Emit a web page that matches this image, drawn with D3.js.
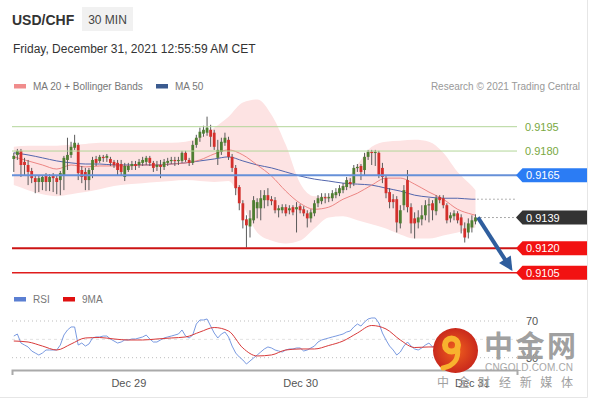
<!DOCTYPE html>
<html lang="en">
<head>
<meta charset="utf-8">
<title>USD/CHF 30 MIN</title>
<script src="https://cdn.jsdelivr.net/npm/d3@7/dist/d3.min.js"></script>
<style>
  body { margin: 0; background: #fff; }
  svg { display: block; font-family: "Liberation Sans", Arial, sans-serif; }
</style>
</head>
<body>
<div id="chart"></div>
<script>
// 30 min candles, Dec 28 08:00 -> Dec 31 00:30
var open = [
  0.91751,0.91776,0.91801,0.91733,0.91714,0.91677,0.91633,0.91609,0.91609,0.91652,
  0.91609,0.91652,0.91633,0.91621,0.91652,0.91745,0.91776,0.91820,0.91838,0.91683,
  0.91671,0.91621,0.91683,0.91751,0.91739,0.91764,0.91758,0.91751,0.91733,0.91727,
  0.91720,0.91640,0.91683,0.91708,0.91720,0.91714,0.91727,0.91733,0.91758,0.91727,
  0.91702,0.91714,0.91702,0.91727,0.91739,0.91745,0.91739,0.91739,0.91789,0.91745,
  0.91727,0.91838,0.91882,0.91907,0.91913,0.91931,0.91913,0.91758,0.91795,0.91851,
  0.91869,0.91764,0.91696,0.91578,0.91478,0.91379,0.91335,0.91373,0.91447,0.91447,
  0.91497,0.91528,0.91503,0.91497,0.91435,0.91435,0.91454,0.91435,0.91454,0.91441,
  0.91460,0.91441,0.91416,0.91385,0.91416,0.91478,0.91491,0.91516,0.91509,0.91509,
  0.91528,0.91540,0.91559,0.91578,0.91609,0.91602,0.91696,0.91708,0.91683,0.91764,
  0.91795,0.91789,0.91789,0.91696,0.91633,0.91547,0.91503,0.91503,0.91354,0.91466,
  0.91621,0.91454,0.91385,0.91360,0.91379,0.91404,0.91466,0.91478,0.91429,0.91516,
  0.91509,0.91466,0.91385,0.91398,0.91416,0.91391,0.91323,0.91298,0.91329,0.91366
];
var high = [
  0.91789,0.91813,0.91813,0.91758,0.91745,0.91696,0.91646,0.91646,0.91652,0.91664,
  0.91658,0.91664,0.91646,0.91677,0.91770,0.91882,0.91857,0.91900,0.91851,0.91708,
  0.91696,0.91696,0.91764,0.91770,0.91776,0.91776,0.91782,0.91764,0.91745,0.91745,
  0.91745,0.91727,0.91727,0.91739,0.91739,0.91751,0.91764,0.91770,0.91770,0.91739,
  0.91739,0.91745,0.91751,0.91758,0.91764,0.91764,0.91764,0.91801,0.91801,0.91758,
  0.91863,0.91900,0.91944,0.91956,0.92012,0.91962,0.91931,0.91869,0.91882,0.91913,
  0.91888,0.91782,0.91714,0.91590,0.91497,0.91404,0.91435,0.91522,0.91509,0.91559,
  0.91559,0.91571,0.91522,0.91516,0.91466,0.91472,0.91472,0.91466,0.91466,0.91485,
  0.91472,0.91460,0.91435,0.91441,0.91497,0.91528,0.91540,0.91540,0.91540,0.91559,
  0.91571,0.91590,0.91602,0.91640,0.91633,0.91714,0.91720,0.91720,0.91789,0.91807,
  0.91807,0.91807,0.91801,0.91727,0.91652,0.91571,0.91534,0.91522,0.91466,0.91590,
  0.91683,0.91478,0.91422,0.91435,0.91466,0.91497,0.91509,0.91497,0.91528,0.91528,
  0.91528,0.91478,0.91422,0.91435,0.91429,0.91410,0.91360,0.91385,0.91404,0.91410
];
var low = [
  0.91671,0.91745,0.91640,0.91652,0.91590,0.91602,0.91540,0.91547,0.91559,0.91553,
  0.91553,0.91547,0.91534,0.91528,0.91559,0.91683,0.91758,0.91807,0.91621,0.91602,
  0.91559,0.91559,0.91633,0.91708,0.91727,0.91733,0.91733,0.91708,0.91696,0.91652,
  0.91646,0.91615,0.91671,0.91683,0.91683,0.91696,0.91708,0.91714,0.91708,0.91671,
  0.91677,0.91633,0.91683,0.91708,0.91720,0.91708,0.91714,0.91727,0.91733,0.91708,
  0.91714,0.91820,0.91857,0.91888,0.91894,0.91826,0.91807,0.91714,0.91776,0.91832,
  0.91745,0.91671,0.91528,0.91435,0.91323,0.91205,0.91267,0.91354,0.91385,0.91373,
  0.91447,0.91460,0.91466,0.91416,0.91391,0.91416,0.91398,0.91410,0.91404,0.91298,
  0.91416,0.91398,0.91329,0.91360,0.91398,0.91454,0.91472,0.91478,0.91485,0.91491,
  0.91509,0.91522,0.91540,0.91559,0.91571,0.91584,0.91671,0.91621,0.91646,0.91745,
  0.91714,0.91708,0.91633,0.91602,0.91509,0.91447,0.91447,0.91298,0.91323,0.91435,
  0.91422,0.91292,0.91261,0.91323,0.91342,0.91373,0.91360,0.91373,0.91404,0.91478,
  0.91447,0.91354,0.91360,0.91373,0.91354,0.91292,0.91236,0.91261,0.91298,0.91348
];
var close = [
  0.91770,0.91801,0.91714,0.91714,0.91671,0.91633,0.91609,0.91633,0.91640,0.91609,
  0.91640,0.91633,0.91609,0.91664,0.91758,0.91776,0.91826,0.91851,0.91664,0.91640,
  0.91621,0.91683,0.91745,0.91727,0.91764,0.91758,0.91770,0.91727,0.91714,0.91683,
  0.91671,0.91708,0.91708,0.91720,0.91708,0.91733,0.91745,0.91758,0.91727,0.91696,
  0.91714,0.91702,0.91733,0.91739,0.91745,0.91739,0.91745,0.91789,0.91745,0.91727,
  0.91838,0.91882,0.91919,0.91931,0.91944,0.91888,0.91826,0.91807,0.91857,0.91882,
  0.91764,0.91696,0.91571,0.91478,0.91373,0.91342,0.91385,0.91497,0.91485,0.91509,
  0.91528,0.91497,0.91491,0.91435,0.91447,0.91454,0.91416,0.91447,0.91422,0.91454,
  0.91435,0.91416,0.91385,0.91422,0.91478,0.91509,0.91516,0.91509,0.91516,0.91540,
  0.91547,0.91571,0.91584,0.91621,0.91596,0.91696,0.91702,0.91671,0.91764,0.91795,
  0.91789,0.91795,0.91652,0.91640,0.91540,0.91485,0.91485,0.91360,0.91435,0.91559,
  0.91454,0.91354,0.91354,0.91391,0.91404,0.91466,0.91472,0.91435,0.91509,0.91497,
  0.91466,0.91373,0.91404,0.91416,0.91373,0.91342,0.91267,0.91354,0.91373,0.91391
];

// indicator values read at every 4th candle (plus the last one)
var sampleIdx = [0,4,8,12,16,20,24,28,32,36,40,44,48,52,56,60,64,68,72,76,80,84,88,92,96,100,104,108,112,116,120,124,128,129];
var ma20 = [
  0.91764,0.91739,0.91714,0.91689,0.91714,0.91702,0.91708,0.91708,0.91708,0.91714,
  0.91714,0.91720,0.91727,0.91745,0.91782,0.91807,0.91776,0.91714,0.91646,0.91553,
  0.91478,0.91441,0.91454,0.91503,0.91540,0.91590,0.91633,0.91633,0.91596,0.91547,
  0.91503,0.91441,0.91410,0.91404
];
var ma50 = [
  0.91789,0.91776,0.91758,0.91739,0.91727,0.91720,0.91720,0.91714,0.91714,0.91714,
  0.91714,0.91720,0.91727,0.91739,0.91751,0.91764,0.91739,0.91714,0.91696,0.91671,
  0.91646,0.91627,0.91615,0.91602,0.91596,0.91590,0.91571,0.91553,0.91528,0.91516,
  0.91509,0.91509,0.91503,0.91503
];
var bbUpper = [
  0.91826,0.91832,0.91832,0.91832,0.91838,0.91844,0.91851,0.91851,0.91851,0.91851,
  0.91851,0.91851,0.91857,0.91888,0.91944,0.92012,0.92099,0.92118,0.92024,0.91838,
  0.91602,0.91522,0.91522,0.91596,0.91714,0.91826,0.91857,0.91863,0.91869,0.91857,
  0.91789,0.91671,0.91584,0.91559
];
var bbLower = [
  0.91590,0.91559,0.91534,0.91522,0.91534,0.91547,0.91565,0.91584,0.91596,0.91602,
  0.91609,0.91615,0.91621,0.91615,0.91609,0.91615,0.91466,0.91298,0.91248,0.91230,
  0.91248,0.91323,0.91391,0.91398,0.91373,0.91348,0.91323,0.91286,0.91261,0.91261,
  0.91280,0.91298,0.91323,0.91329
];

// RSI, one value per candle
var rsi = [
  53.6,55.8,46.0,43.8,41.7,37.3,35.1,32.9,35.1,38.4,
  38.4,38.4,38.4,43.8,54.7,60.2,63.5,63.5,43.8,46.0,
  42.7,44.9,51.5,52.6,52.6,53.6,53.6,50.4,48.2,46.0,
  47.1,49.3,49.3,50.4,50.4,51.5,52.6,54.7,50.4,47.1,
  47.1,49.3,51.5,52.6,53.6,54.7,55.8,60.2,53.6,51.5,
  54.7,66.7,71.1,71.1,72.2,64.5,56.9,51.5,55.8,58.0,
  52.6,42.7,35.1,30.8,27.5,23.1,26.4,29.7,32.9,36.2,
  39.5,41.7,40.6,38.4,37.3,36.2,38.4,39.5,39.5,40.6,
  40.6,37.3,38.4,40.6,42.7,47.1,49.3,50.4,51.5,52.6,
  53.6,54.7,55.8,58.0,59.1,63.5,66.7,64.5,68.9,72.2,
  73.3,73.3,67.8,56.9,49.3,42.7,38.4,32.9,36.2,42.7,
  47.1,42.7,39.5,38.4,40.6,43.8,46.0,41.7,43.8,41.7,
  39.5,36.2,38.4,39.5,36.2,32.9,27.5,31.9,36.2,39.5
];
// 9 period MA of RSI, at sampleIdx
var rsiMa = [
  48.2,47.1,42.7,38.4,44.9,51.5,52.0,50.4,49.3,49.3,
  50.4,51.5,52.6,58.0,62.9,59.1,40.6,31.9,33.0,38.4,
  39.5,39.5,43.3,48.2,56.9,65.1,61.3,49.3,41.1,41.7,
  41.7,38.4,35.1,35.1
];
var rsiLevels = [70, 50, 30];

// key levels on the right
var levelValues = [0.9195, 0.9180, 0.9165, 0.9139, 0.9120, 0.9105];
var levelKinds = ["resist", "resist", "pivot", "last", "support", "support2"];
var arrowTarget = [new Date(2021, 11, 31, 5, 40), 0.9106];

var width = 590, height = 400;
var svg = d3.select("#chart").append("svg")
  .attr("width", width).attr("height", height);
var defs = svg.append("defs");

// frame
svg.append("path").attr("d", "M587.5,0V397.5H0")
  .attr("fill", "none").attr("stroke", "#e6e6e6");

// header
svg.append("text").attr("x", 12).attr("y", 25)
  .attr("font-size", 14).attr("font-weight", "bold").attr("fill", "#333")
  .text("USD/CHF");
svg.append("rect").attr("x", 82).attr("y", 7).attr("width", 51).attr("height", 24)
  .attr("fill", "#f1f1f1");
svg.append("text").attr("x", 107.5).attr("y", 23.5).attr("text-anchor", "middle")
  .attr("font-size", 12).attr("fill", "#444").text("30 MIN");
svg.append("text").attr("x", 13).attr("y", 53)
  .attr("font-size", 12).attr("fill", "#333")
  .text("Friday, December 31, 2021 12:55:59 AM CET");

// legends
function legend(items, y) {
  items.forEach(function (d) {
    svg.append("rect").attr("x", d.x).attr("y", y - 6).attr("width", 12).attr("height", 4.5)
      .attr("fill", d.color);
    svg.append("text").attr("x", d.x + 19).attr("y", y)
      .attr("font-size", 10).attr("fill", "#777").text(d.label);
  });
}
legend([{ x: 14, color: "#f08c8c", label: "MA 20 + Bollinger Bands" },
        { x: 156, color: "#3b5b8f", label: "MA 50" }], 90);
svg.append("text").attr("x", 580).attr("y", 90).attr("text-anchor", "end")
  .attr("font-size", 10).attr("fill", "#999").text("Research \u00a9 2021 Trading Central");
legend([{ x: 14, color: "#5b7fd2", label: "RSI" },
        { x: 63, color: "#e01010", label: "9MA" }], 303);

// scales
var t0 = new Date(2021, 11, 28, 8, 0);
var times = open.map(function (d, i) { return d3.timeMinute.offset(t0, 30 * i); });
var x = d3.scaleTime()
  .domain([new Date(2021, 11, 28, 7, 45), new Date(2021, 11, 31, 6, 18)])
  .range([12, 517]);
var y = d3.scaleLinear().domain([0.9105, 0.9195]).range([272.7, 126.7]);
var yr = d3.scaleLinear().domain([30, 70]).range([357.7, 321]);

var last = open.length - 1;

// bollinger band
var band = d3.area()
  .x(function (d) { return x(times[d]); })
  .y0(function (d, k) { return y(bbLower[k]); })
  .y1(function (d, k) { return y(bbUpper[k]); })
  .curve(d3.curveMonotoneX);
svg.append("path").datum(sampleIdx).attr("d", band).attr("fill", "#fde3e3");

// moving averages
function sampledLine(values) {
  return d3.line()
    .x(function (d) { return x(times[d]); })
    .y(function (d, k) { return y(values[k]); })
    .curve(d3.curveMonotoneX);
}
svg.append("path").datum(sampleIdx).attr("d", sampledLine(ma50))
  .attr("fill", "none").attr("stroke", "#5366ad").attr("stroke-width", 1);
svg.append("path").datum(sampleIdx).attr("d", sampledLine(ma20))
  .attr("fill", "none").attr("stroke", "#ea7b78").attr("stroke-width", 0.9);

// candles
var gc = svg.append("g");
var candle = gc.selectAll("g").data(d3.range(open.length)).join("g");
candle.append("line")
  .attr("x1", function (i) { return x(times[i]); })
  .attr("x2", function (i) { return x(times[i]); })
  .attr("y1", function (i) { return y(high[i]); })
  .attr("y2", function (i) { return y(low[i]); })
  .attr("stroke", "#5a5a5a").attr("stroke-width", 1);
candle.append("rect")
  .attr("x", function (i) { return x(times[i]) - 1.4; })
  .attr("width", 2.8)
  .attr("y", function (i) { return y(Math.max(open[i], close[i])); })
  .attr("height", function (i) { return Math.max(1.2, Math.abs(y(open[i]) - y(close[i]))); })
  .attr("fill", function (i) { return close[i] >= open[i] ? "#4f7e32" : "#d3302c"; });

// level lines
var lineStyle = {
  resist: { stroke: "#b3d699", w: 1 },
  pivot: { stroke: "#6690d8", w: 2 },
  support: { stroke: "#cc1414", w: 2 },
  support2: { stroke: "#e01c1c", w: 1.6 }
};
var boxColor = { pivot: "#2b7cf4", last: "#333333", support: "#f21212", support2: "#f21212" };
var fmt = d3.format(".4f");

levelValues.forEach(function (v, k) {
  var kind = levelKinds[k], yy = y(v);
  if (kind === "last") {
    svg.append("line").attr("x1", x(times[last]) + 5).attr("x2", 516)
      .attr("y1", yy).attr("y2", yy)
      .attr("stroke", "#555").attr("stroke-dasharray", "1,3");
  } else {
    svg.append("line").attr("x1", 12).attr("x2", 517).attr("y1", yy).attr("y2", yy)
      .attr("stroke", lineStyle[kind].stroke).attr("stroke-width", lineStyle[kind].w);
  }
  if (kind === "resist") {
    svg.append("text").attr("x", 525).attr("y", yy + 4)
      .attr("font-size", 11).attr("fill", "#79a83f").text(fmt(v));
  } else {
    svg.append("path")
      .attr("d", "M516," + yy + "L522.5," + (yy - 7) + "H587V" + (yy + 7) + "H522.5Z")
      .attr("fill", boxColor[kind]);
    svg.append("text").attr("x", 526).attr("y", yy + 4)
      .attr("font-size", 11).attr("fill", "#fff").text(fmt(v));
  }
});

// MA50 end marker
var yMa = y(ma50[ma50.length - 1]);
svg.append("line").attr("x1", x(times[last]) + 2).attr("x2", 516)
  .attr("y1", yMa).attr("y2", yMa)
  .attr("stroke", "#666").attr("stroke-dasharray", "1,3");

// forecast arrow
var p0 = [x(d3.timeMinute.offset(times[last], 20)), y(close[last])];
var p1 = [x(arrowTarget[0]), y(arrowTarget[1])];
var dx = p1[0] - p0[0], dy = p1[1] - p0[1], len = Math.sqrt(dx * dx + dy * dy);
var ux = dx / len, uy = dy / len;
svg.append("line")
  .attr("x1", p0[0]).attr("y1", p0[1])
  .attr("x2", p1[0] - ux * 10).attr("y2", p1[1] - uy * 10)
  .attr("stroke", "#2f5e9e").attr("stroke-width", 4);
svg.append("path")
  .attr("d", "M" + p1[0] + "," + p1[1] +
    "L" + (p1[0] - ux * 14 - uy * 7) + "," + (p1[1] - uy * 14 + ux * 7) +
    "L" + (p1[0] - ux * 14 + uy * 7) + "," + (p1[1] - uy * 14 - ux * 7) + "Z")
  .attr("fill", "#2f5e9e");

// RSI panel
rsiLevels.forEach(function (v) {
  svg.append("line").attr("x1", 12).attr("x2", 517)
    .attr("y1", yr(v)).attr("y2", yr(v))
    .attr("stroke", v === 50 ? "#e2e2e2" : "#bdbdbd")
    .attr("stroke-dasharray", v === 50 ? "3,3" : "1,3");
  if (v !== 50) {
    svg.append("text").attr("x", 526).attr("y", yr(v) + 4)
      .attr("font-size", 11).attr("fill", "#555").text(v);
  }
});
svg.append("path").datum(rsi)
  .attr("d", d3.line().x(function (d, i) { return x(times[i]); }).y(function (d) { return yr(d); }))
  .attr("fill", "none").attr("stroke", "#6b8fdc").attr("stroke-width", 0.9);
svg.append("path").datum(sampleIdx)
  .attr("d", d3.line().x(function (d) { return x(times[d]); })
    .y(function (d, k) { return yr(rsiMa[k]); }).curve(d3.curveMonotoneX))
  .attr("fill", "none").attr("stroke", "#d83a3a").attr("stroke-width", 1);

// time axis
var axis = svg.append("g").attr("transform", "translate(0,370)")
  .call(d3.axisBottom(x).ticks(d3.timeDay.every(1))
    .tickFormat(d3.timeFormat("%b %d")).tickSizeInner(0).tickSizeOuter(5).tickPadding(9));
axis.select(".domain").attr("stroke", "#aaa").attr("stroke-width", 2);
axis.selectAll("text").attr("font-size", 11).attr("fill", "#555")
  .attr("font-family", "Liberation Sans, Arial, sans-serif");

// watermark
var grad = defs.append("radialGradient").attr("id", "logoGrad");
grad.append("stop").attr("offset", "0%").attr("stop-color", "#f0601e");
grad.append("stop").attr("offset", "100%").attr("stop-color", "#c9291c");
var wm = svg.append("g");
wm.append("circle").attr("cx", 455.5).attr("cy", 350.5).attr("r", 22.5).attr("fill", "url(#logoGrad)");
wm.append("circle").attr("cx", 451.5).attr("cy", 345).attr("r", 6.5)
  .attr("fill", "none").attr("stroke", "#f8b22e").attr("stroke-width", 6);
wm.append("path").attr("d", "M457.5,348 C459,359 454,366 443,368")
  .attr("fill", "none").attr("stroke", "#f8b22e").attr("stroke-width", 5).attr("stroke-linecap", "round");
var cjk = "'Noto Sans CJK SC', sans-serif";
wm.append("text").attr("x", 484).attr("y", 357).attr("font-family", cjk)
  .attr("font-size", 29).attr("font-weight", "bold").attr("fill", "#a0a0a0")
  .attr("textLength", 92).attr("lengthAdjust", "spacing").text("中金网");
wm.append("text").attr("x", 485).attr("y", 370.5)
  .attr("font-size", 10).attr("fill", "#a8a8a8")
  .attr("textLength", 88).attr("lengthAdjust", "spacing").text("CNGOLD.COM.CN");
wm.append("text").attr("x", 437).attr("y", 387).attr("font-family", cjk)
  .attr("font-size", 12).attr("fill", "#a0a0a0")
  .attr("textLength", 136).attr("lengthAdjust", "spacing").text("中金财经新媒体");
</script>
</body>
</html>
